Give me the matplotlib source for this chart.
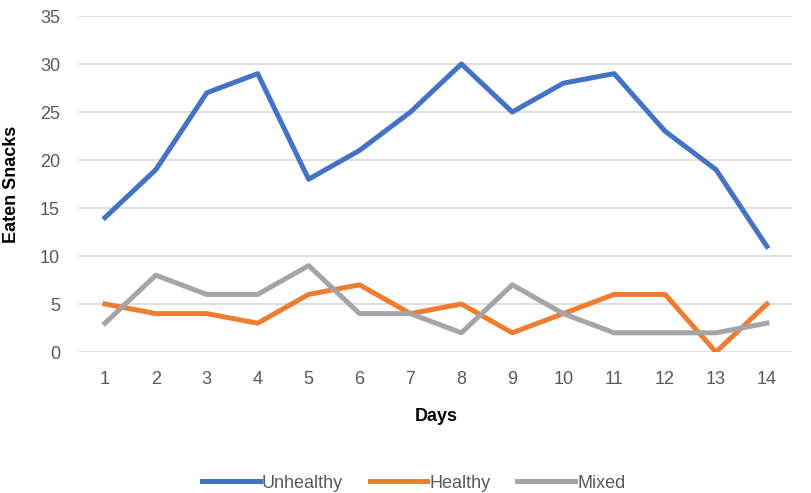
import matplotlib.pyplot as plt
import numpy as np

days = list(range(1, 15))
unhealthy = [14, 19, 27, 29, 18, 21, 25, 30, 25, 28, 29, 23, 19, 11]
healthy = [5, 4, 4, 3, 6, 7, 4, 5, 2, 4, 6, 6, 0, 5]
mixed = [3, 8, 6, 6, 9, 4, 4, 2, 7, 4, 2, 2, 2, 3]

plt.rcParams['font.family'] = ['Liberation Sans', 'DejaVu Sans']

fig = plt.figure(figsize=(8.11, 4.93), dpi=100)
ax = fig.add_axes([0.098, 0.286, 0.879, 0.6815])

ax.plot(days, unhealthy, color='#4472C4', lw=3.6, label='Unhealthy', solid_joinstyle='round')
ax.plot(days, healthy, color='#ED7D31', lw=3.6, label='Healthy', solid_joinstyle='round')
ax.plot(days, mixed, color='#A5A5A5', lw=3.6, label='Mixed', solid_joinstyle='round')

ax.set_xlim(0.5, 14.5)
ax.set_ylim(0, 35)
ax.set_xticks(days)
ax.set_yticks(np.arange(0, 36, 5))
ax.grid(axis='y', color='#D9D9D9', lw=1.2)
ax.set_axisbelow(True)
for s in ax.spines.values():
    s.set_visible(False)
ax.tick_params(length=0, labelsize=13, labelcolor='#595959')
ax.tick_params(axis='x', pad=14)
ax.tick_params(axis='y', pad=14)

ax.set_xlabel('Days', fontsize=13, fontweight='bold', labelpad=14)
ax.set_ylabel('Eaten Snacks', fontsize=13, fontweight='bold', labelpad=14)

leg = fig.legend(loc='lower center', bbox_to_anchor=(0.51, -0.03), ncol=3, frameon=False,
                 fontsize=13, handlelength=3.2, columnspacing=1.5, handletextpad=0.1)
for t in leg.get_texts():
    t.set_color('#595959')

fig.savefig('out.png', dpi=100)
